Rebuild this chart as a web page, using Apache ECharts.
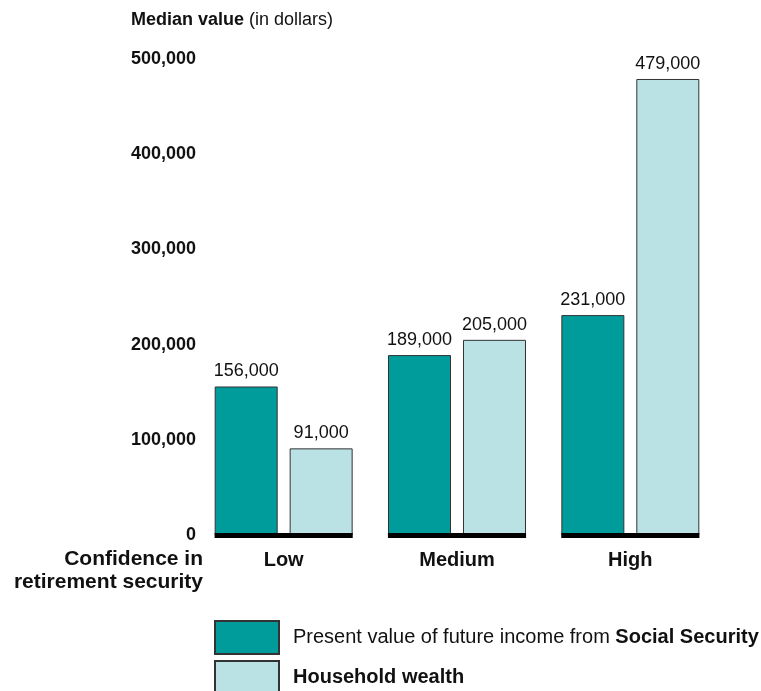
<!DOCTYPE html>
<html>
<head>
<meta charset="utf-8">
<script src="https://cdn.jsdelivr.net/npm/echarts@6/dist/echarts.min.js"></script>
<style>html,body{margin:0;padding:0;background:#fff}#c{width:761px;height:691px}</style>
</head>
<body>
<div id="c"></div>
<script>
const categories = ['Low', 'Medium', 'High'];
const socialSecurity = [156000, 189000, 231000];
const householdWealth = [91000, 205000, 479000];
const seriesNames = ['Social Security', 'Household wealth'];
const yMin = 0, yMax = 500000, yInterval = 100000;

const FONT = 'Liberation Sans, Arial, Helvetica, sans-serif';
const chart = echarts.init(document.getElementById('c'));
const fmt = v => v.toLocaleString('en-US');

const legendCommon = {
  orient: 'vertical', left: 209,
  itemWidth: 64, itemHeight: 33,
  icon: 'rect',
  formatter: name => name === 'Social Security'
    ? '{n|Present value of future income from }{b|Social Security}'
    : '{b|Household wealth}',
  textStyle: {
    padding: [0, 0, 0, 9],
    rich: {
      n: { fontFamily: FONT, fontSize: 20, fontWeight: 'normal', color: '#111' },
      b: { fontFamily: FONT, fontSize: 20, fontWeight: 'bold', color: '#111' }
    }
  }
};

chart.setOption({
  backgroundColor: '#ffffff',
  animation: false,
  textStyle: { fontFamily: FONT },
  title: {
    left: 126, top: 6,
    text: '{b|Median value} {n|(in dollars)}',
    textStyle: {
      fontWeight: 'normal',
      rich: {
        b: { fontFamily: FONT, fontSize: 18, fontWeight: 'bold', color: '#111' },
        n: { fontFamily: FONT, fontSize: 18, fontWeight: 'normal', color: '#111' }
      }
    }
  },
  grid: { left: 197, right: 44, top: 59, bottom: 156 },
  xAxis: {
    type: 'category',
    data: categories,
    axisLine: { show: false },
    axisTick: { show: false },
    axisLabel: { fontFamily: FONT, fontSize: 20, fontWeight: 'bold', color: '#111', margin: 15 }
  },
  yAxis: {
    type: 'value', min: yMin, max: yMax, interval: yInterval,
    axisLine: { show: false }, axisTick: { show: false }, splitLine: { show: false },
    axisLabel: { fontFamily: FONT, fontSize: 18, fontWeight: 'bold', color: '#111', margin: 1, formatter: v => fmt(v) }
  },
  legend: [
    Object.assign({}, legendCommon, { top: 615, data: [seriesNames[0]] }),
    Object.assign({}, legendCommon, { top: 655, data: [seriesNames[1]] })
  ],
  graphic: [{
    type: 'text', x: 203, y: 548,
    style: {
      text: 'Confidence in\nretirement security',
      font: 'bold 21px ' + FONT, fill: '#111',
      textAlign: 'right', lineHeight: 23
    }
  }],
  series: [
    {
      name: seriesNames[0], type: 'bar', data: socialSecurity,
      barWidth: 63, barGap: '19%',
      itemStyle: { color: '#009c9c', borderColor: '#333', borderWidth: 1 },
      label: { show: true, position: 'top', distance: 6, fontFamily: FONT, fontSize: 18, color: '#111', formatter: p => fmt(p.value) }
    },
    {
      name: seriesNames[1], type: 'bar', data: householdWealth,
      barWidth: 63,
      itemStyle: { color: '#bae1e3', borderColor: '#333', borderWidth: 1 },
      label: { show: true, position: 'top', distance: 6, fontFamily: FONT, fontSize: 18, color: '#111', formatter: p => fmt(p.value) }
    },
    {
      name: 'baseline', type: 'custom', z: 5,
      data: categories.map((c, i) => [i, 0]),
      renderItem: (params, api) => {
        const p = api.coord([api.value(0), api.value(1)]);
        const bw = api.size([1, 0])[0];
        const w = bw * 0.797;
        return { type: 'rect', shape: { x: p[0] - w / 2, y: p[1] - 2, width: w, height: 5 }, style: { fill: '#000' } };
      },
      silent: true
    }
  ]
});
</script>
</body>
</html>
